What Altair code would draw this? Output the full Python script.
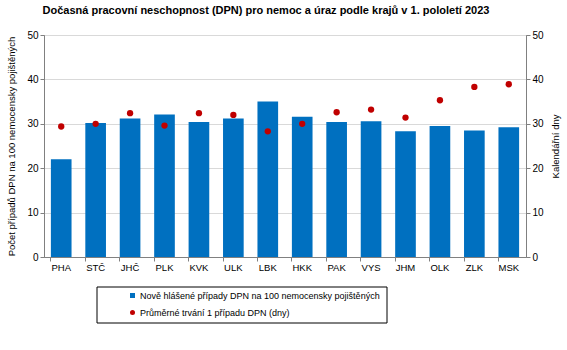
import altair as alt
import pandas as pd

regions = ["PHA", "STČ", "JHČ", "PLK", "KVK", "ULK", "LBK", "HKK", "PAK", "VYS", "JHM", "OLK", "ZLK", "MSK"]
cases = [22.0, 30.2, 31.2, 32.1, 30.4, 31.2, 35.0, 31.6, 30.4, 30.6, 28.3, 29.5, 28.5, 29.2]
duration = [29.4, 30.0, 32.4, 29.6, 32.4, 32.0, 28.3, 30.0, 32.6, 33.2, 31.4, 35.3, 38.3, 38.9]
s1 = "Nově hlášené případy DPN na 100 nemocensky pojištěných"
s2 = "Průměrné trvání 1 případu DPN (dny)"
y_ticks = [0, 10, 20, 30, 40, 50]

df_bar = pd.DataFrame({"kraj": regions, "value": cases, "series": s1})
df_pt = pd.DataFrame({"kraj": regions, "value": duration, "series": s2})

FONT = "Liberation Sans"
AXC = "#808080"

xscale = alt.Scale(domain=regions, paddingInner=0.4, paddingOuter=0.2)
legend = alt.Legend(title=None, orient="none", legendX=84, legendY=256, padding=0,
                    labelFont=FONT, labelFontSize=9, labelColor="#000000",
                    symbolSize=25, rowPadding=7, labelOffset=3, labelLimit=400)
color = alt.Color("series:N", scale=alt.Scale(domain=[s1, s2], range=["#0070C0", "#C00000"]), legend=legend)
shape = alt.Shape("series:N", scale=alt.Scale(domain=[s1, s2], range=["square", "circle"]), legend=legend)

x_main = alt.X("kraj:N", scale=xscale, sort=regions, title=None,
               axis=alt.Axis(labelAngle=0, ticks=False, domainColor=AXC, labelFont=FONT,
                             labelFontSize=9.5, labelColor="#000000", labelPadding=5))

bars = alt.Chart(df_bar).mark_bar().encode(
    x=x_main,
    y=alt.Y("value:Q", scale=alt.Scale(domain=[0, 50]),
            axis=alt.Axis(values=y_ticks, title="Počet případů DPN  na 100 nemocensky pojištěných",
                          grid=True, gridColor="#d9d9d9", domainColor=AXC, tickColor=AXC,
                          tickSize=4, labelFont=FONT, labelFontSize=10, labelColor="#000000",
                          titleFont=FONT, titleFontSize=9.5, titleFontWeight="normal",
                          titleColor="#000000", titlePadding=10)),
    color=color,
)

ticks_layer = alt.Chart(df_bar).mark_bar(opacity=0).encode(
    x=alt.X("kraj:N", scale=xscale, sort=regions, title=None,
            axis=alt.Axis(orient="bottom", bandPosition=0, labels=False, ticks=True, tickSize=4,
                          tickColor=AXC, domain=False, grid=False)),
)

points = alt.Chart(df_pt).mark_point(filled=True, size=40, opacity=1).encode(
    x=alt.X("kraj:N", scale=xscale, sort=regions, axis=None),
    y=alt.Y("value:Q", scale=alt.Scale(domain=[0, 50]),
            axis=alt.Axis(orient="right", values=y_ticks, title="Kalendářní dny", grid=False,
                          domainColor=AXC, tickColor=AXC, tickSize=4, labelFont=FONT,
                          labelFontSize=10, labelColor="#000000", titleFont=FONT, titleFontSize=9.5,
                          titleFontWeight="normal", titleColor="#000000",
                          titleAngle=270, titleX=29, titleY=111, titleAlign="center",
                          titleBaseline="middle")),
    color=color,
    shape=shape,
)

frame = alt.Chart(pd.DataFrame({"a": [0]})).mark_rect(fill=None, stroke="#000000", strokeWidth=1).encode(
    x=alt.value(53), x2=alt.value(343), y=alt.value(252), y2=alt.value(288)
)

chart = alt.layer(bars, ticks_layer, points, frame).resolve_scale(y="independent").resolve_axis(
    x="independent"
).properties(
    width=482, height=222,
    padding={"left": 44, "top": 35, "right": 41, "bottom": 93},
    autosize=alt.AutoSizeParams(type="none"),
    title=alt.Title("Dočasná pracovní neschopnost (DPN) pro nemoc a úraz podle krajů v 1. pololetí 2023",
                    font=FONT, fontSize=11, fontWeight="bold", color="#000000",
                    anchor="middle", dx=-19, offset=14),
).configure_view(stroke=AXC, strokeWidth=1)

chart.save("out.html", embed_options={"renderer": "svg", "actions": False})
